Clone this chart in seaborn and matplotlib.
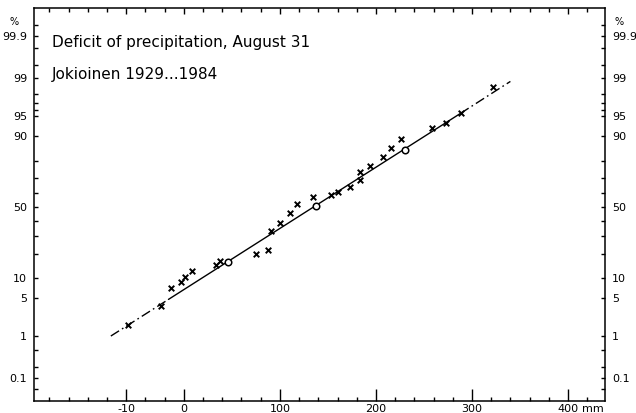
import numpy as np
import matplotlib
matplotlib.use("Agg")
import matplotlib.pyplot as plt
import seaborn as sns
from statistics import NormalDist
from matplotlib.ticker import FixedLocator, FixedFormatter, NullFormatter

# Annual precipitation deficit at Jokioinen (mm) and plotting position (%)
deficit_mm = [-58, -24, -13, -3, 1, 8, 33, 37.5, 75, 88, 91, 100, 111, 118,
              135, 153, 161, 173, 183, 183, 194, 207, 216, 226, 258, 273,
              288.5, 321.5]
prob_pct = [1.7, 3.7, 7.2, 8.8, 10.5, 12.5, 14.9, 16.4, 19.9, 22.1, 33.1,
            39.1, 45.7, 52.2, 57.1, 58.8, 60.7, 64.5, 68.9, 73.6, 77.2, 81.9,
            85.6, 89.1, 92.4, 93.7, 95.5, 98.5]

# Mean and mean +/- one standard deviation on the fitted line
moment_mm = [46, 138, 230]
moment_pct = [16.0, 51.0, 85.0]

# Fitted normal line: solid over the data, dash-dot extrapolation at both ends
fit_low_mm = [-76, -16]
fit_low_pct = [1.0, 4.8]
fit_mid_mm = [-16, 288]
fit_mid_pct = [4.8, 95.5]
fit_high_mm = [288, 340]
fit_high_pct = [95.5, 98.85]

prob_ticks = [0.1, 1, 5, 10, 50, 90, 95, 99, 99.9]
prob_labels = ["0.1", "1", "5", "10", "50", "90", "95", "99", "99.9"]
prob_minor = [0.05, 0.2, 0.5, 20, 30, 40, 60, 70, 80, 96, 97, 98,
              99.5, 99.8, 99.95]
mm_ticks = [-60, 0, 100, 200, 300, 400]
mm_labels = ["-10", "0", "100", "200", "300", "400"]
mm_minor = list(range(-140, 440, 20))

sns.set_style("white")
plt.rcParams["font.family"] = ["DejaVu Sans"]
plt.rcParams["text.color"] = "black"
plt.rcParams["xtick.color"] = "black"
plt.rcParams["ytick.color"] = "black"
plt.rcParams["xtick.labelcolor"] = "black"
plt.rcParams["ytick.labelcolor"] = "black"

_nd = NormalDist()


def pct_to_z(p):
    p = np.clip(np.asarray(p, dtype=float) / 100.0, 1e-9, 1 - 1e-9)
    return np.vectorize(_nd.inv_cdf, otypes=[float])(p)


def z_to_pct(z):
    z = np.asarray(z, dtype=float)
    return 100.0 * np.vectorize(_nd.cdf, otypes=[float])(z)


W, H = 636, 413
fig = plt.figure(figsize=(W / 100, H / 100), dpi=100)
ax = fig.add_axes([34 / W, 12 / H, (605 - 34) / W, (401 - 8) / H])
ax.set_yscale("function", functions=(pct_to_z, z_to_pct))

dashdot = (0, (7, 2.5, 1.2, 2.5))
sns.lineplot(x=fit_low_mm, y=fit_low_pct, color="black", lw=1.0,
             linestyle=dashdot, ax=ax)
sns.lineplot(x=fit_mid_mm, y=fit_mid_pct, color="black", lw=1.0, ax=ax)
sns.lineplot(x=fit_high_mm, y=fit_high_pct, color="black", lw=1.0,
             linestyle=dashdot, ax=ax)

sns.scatterplot(x=deficit_mm, y=prob_pct, marker="x", color="black", s=16,
                linewidth=1.4, ax=ax, zorder=3)
sns.scatterplot(x=moment_mm, y=moment_pct, marker="o", facecolor="white",
                edgecolor="black", s=22, linewidth=1.1, ax=ax, zorder=4)

ax.set_xlim(-156, 438.5)
ax.set_ylim(float(z_to_pct(-3.5)), float(z_to_pct(3.6)))

for side in ax.spines.values():
    side.set_visible(True)
    side.set_linewidth(1.1)
    side.set_color("black")

ax.xaxis.set_major_locator(FixedLocator(mm_ticks))
ax.xaxis.set_major_formatter(FixedFormatter(mm_labels))
ax.xaxis.set_minor_locator(FixedLocator(mm_minor))
ax.xaxis.set_minor_formatter(NullFormatter())
ax.yaxis.set_major_locator(FixedLocator(prob_ticks))
ax.yaxis.set_major_formatter(FixedFormatter(prob_labels))
ax.yaxis.set_minor_locator(FixedLocator(prob_minor))
ax.yaxis.set_minor_formatter(NullFormatter())

ax.tick_params(axis="x", which="both", direction="in", bottom=True, top=True,
               labelsize=8, pad=2, color="black", labelcolor="black",
               width=1.0)
ax.tick_params(axis="x", which="major", length=8.6)
ax.tick_params(axis="x", which="minor", length=3.0)
ax.tick_params(axis="y", which="both", direction="in", left=True, right=True,
               labelleft=True, labelright=True, labelsize=8, pad=5,
               color="black", labelcolor="black", width=1.0, length=3.0)

# the -60 mm mark is a medium-length tick
for tick in ax.xaxis.get_major_ticks():
    if tick.get_loc() == -60:
        tick.tick1line.set_markersize(5.8)
    tick.tick2line.set_markersize(4.0)

ax.set_xlabel("")
ax.set_ylabel("")

ax.annotate("mm", xy=(400, 0), xycoords=("data", "axes fraction"),
            xytext=(10, -2), textcoords="offset points", ha="left", va="top",
            fontsize=8, color="black")
ax.annotate("%", xy=(0, 1), xycoords="axes fraction", xytext=(-14, -10),
            textcoords="offset points", ha="center", va="center", fontsize=7,
            color="black")
ax.annotate("%", xy=(1, 1), xycoords="axes fraction", xytext=(10, -10),
            textcoords="offset points", ha="center", va="center", fontsize=7,
            color="black")

fig.text(52 / W, 1 - 42 / H, "Deficit of precipitation, August 31",
         fontsize=11, va="center", ha="left", color="black")
fig.text(52 / W, 1 - 75 / H, "Jokioinen 1929...1984",
         fontsize=11, va="center", ha="left", color="black")

fig.savefig("out.png", dpi=100, facecolor="white")
